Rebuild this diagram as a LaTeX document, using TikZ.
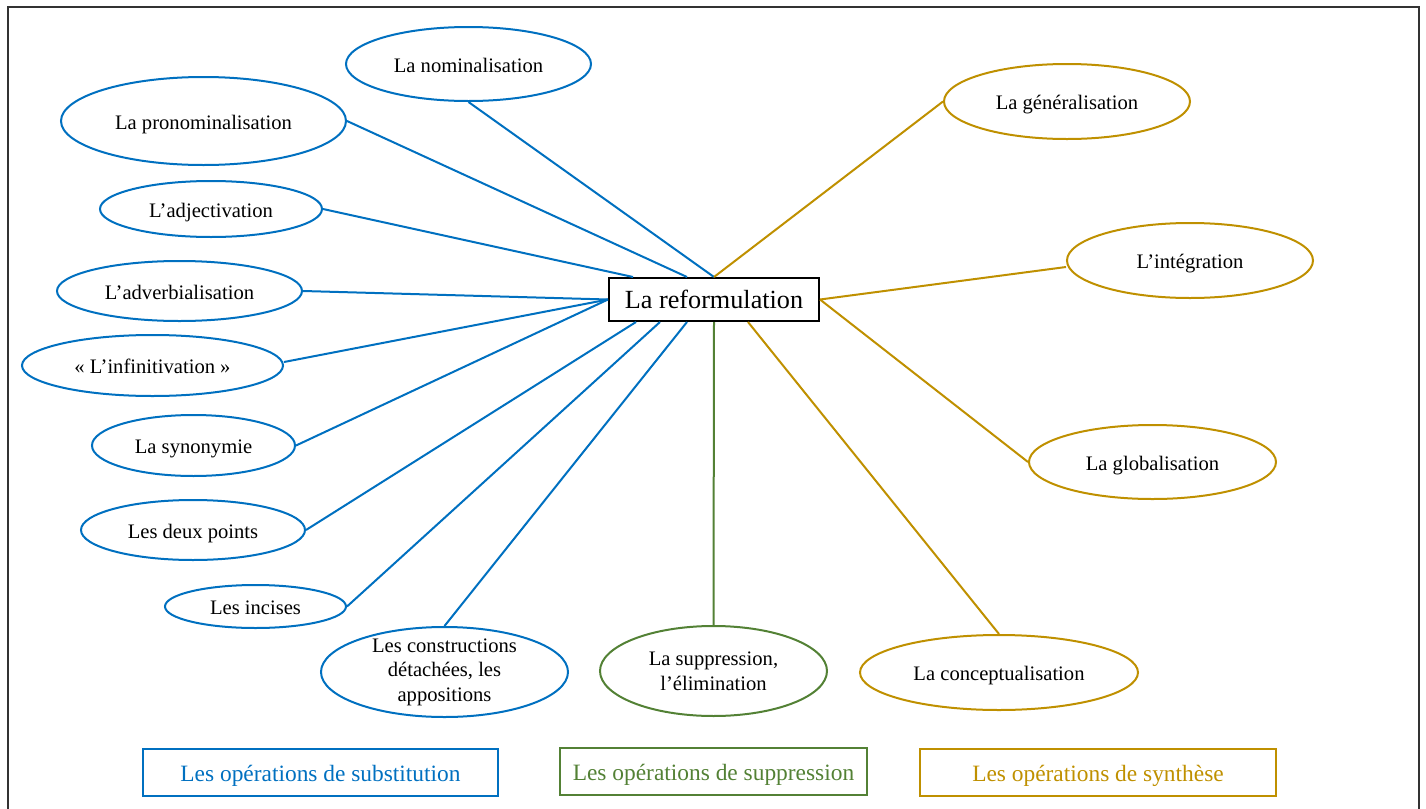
\documentclass[tikz,border=0pt]{standalone}
\usepackage{fontspec}
\setmainfont{Liberation Serif}
\usetikzlibrary{shapes.geometric, calc}

\definecolor{subblue}{HTML}{0070C0}
\definecolor{supgreen}{HTML}{538135}
\definecolor{syngold}{HTML}{BF9000}

\begin{document}
\begin{tikzpicture}[
  x=0.5pt, y=-0.5pt,
  every node/.style={font=\fontsize{10.3}{12.3}\selectfont},
  oval/.style={draw, ellipse, line width=1pt, inner sep=0pt, align=center},
  one/.style={text height=8pt, text depth=0pt},
  subst/.style={oval, draw=subblue},
  suppr/.style={oval, draw=supgreen},
  synth/.style={oval, draw=syngold},
  legend/.style={draw, line width=1pt, inner sep=0pt, text height=9pt, text depth=0pt,
    font=\fontsize{11.7}{14}\selectfont},
  link/.style={line width=1pt},
]
  \useasboundingbox (0,0) rectangle (1426,809);
  \draw[line width=0.8pt, black!80] (8,809) -- (8,7) -- (1419,7) -- (1419,809);

  % centre
  \node[draw, line width=1pt, minimum width=105pt, minimum height=21.5pt, inner sep=0pt,
        font=\fontsize{13.1}{15}\selectfont] (ref) at (714,299.5) {La reformulation};

  % substitution
  \node[subst, one, minimum width=122.5pt, minimum height=37pt] (nom) at (468.5,64) {La nominalisation};
  \node[subst, one, minimum width=142.5pt, minimum height=44pt] (pron) at (203.5,121) {La pronominalisation};
  \node[subst, one, minimum width=111pt, minimum height=28pt] (adj) at (211,209) {L’adjectivation};
  \node[subst, one, minimum width=122.5pt, minimum height=30pt] (adv) at (179.5,291) {L’adverbialisation};
  \node[subst, one, minimum width=130.5pt, minimum height=30.5pt] (inf) at (152.5,365.5) {«~L’infinitivation~»};
  \node[subst, one, minimum width=101.5pt, minimum height=30.5pt] (syn) at (193.5,445.5) {La synonymie};
  \node[subst, one, minimum width=112pt, minimum height=30pt] (deux) at (193,530) {Les deux points};
  \node[subst, one, minimum width=90.5pt, minimum height=21.5pt] (inc) at (255.5,606.5) {Les incises};
  \node[subst, minimum width=123.5pt, minimum height=45pt, inner ysep=-2pt] (constr) at (444.5,672)
    {Les constructions\\détachées, les\\appositions};

  % suppression
  \node[suppr, minimum width=113.5pt, minimum height=45pt] (supp) at (713.5,671)
    {La suppression,\\l’élimination};

  % synthese
  \node[synth, one, minimum width=139pt, minimum height=37.5pt] (concept) at (999,672.5) {La conceptualisation};
  \node[synth, one, minimum width=123.5pt, minimum height=37pt] (glob) at (1152.5,462) {La globalisation};
  \node[synth, one, minimum width=123pt, minimum height=37.5pt] (integ) at (1190,260.5) {L’intégration};
  \node[synth, one, minimum width=123pt, minimum height=37.5pt] (gen) at (1067,101.5) {La généralisation};

  % liens
  \draw[link, subblue] (nom.south) -- (ref.north);
  \draw[link, subblue] (pron.east) -- ([xshift=-13.5pt]ref.north);
  \draw[link, subblue] (adj.east) -- ([xshift=-40.5pt]ref.north);
  \draw[link, subblue] (adv.east) -- (ref.west);
  \draw[link, subblue] ([yshift=1.75pt]inf.east) -- (ref.west);
  \draw[link, subblue] (syn.east) -- (ref.west);
  \draw[link, subblue] (deux.east) -- ([xshift=-39pt]ref.south);
  \draw[link, subblue] (inc.east) -- ([xshift=-27pt]ref.south);
  \draw[link, subblue] (constr.north) -- ([xshift=-13.5pt]ref.south);
  \draw[link, supgreen] (supp.north) -- (ref.south);
  \draw[link, syngold] (concept.north) -- ([xshift=17pt]ref.south);
  \draw[link, syngold] (gen.west) -- (ref.north);
  \draw[link, syngold] ([yshift=-3.25pt]integ.west) -- (ref.east);
  \draw[link, syngold] (glob.west) -- (ref.east);

  % legende
  \node[legend, draw=subblue, text=subblue, minimum width=177.5pt, minimum height=23.5pt] (legsub) at (320.5,772.5)
    {Les opérations de substitution};
  \node[legend, draw=supgreen, text=supgreen, minimum width=153.5pt, minimum height=23.5pt] (legsup) at (713.5,771.5)
    {Les opérations de suppression};
  \node[legend, draw=syngold, text=syngold, minimum width=178pt, minimum height=23.5pt] (legsyn) at (1098,772.5)
    {Les opérations de synthèse};
\end{tikzpicture}
\end{document}
